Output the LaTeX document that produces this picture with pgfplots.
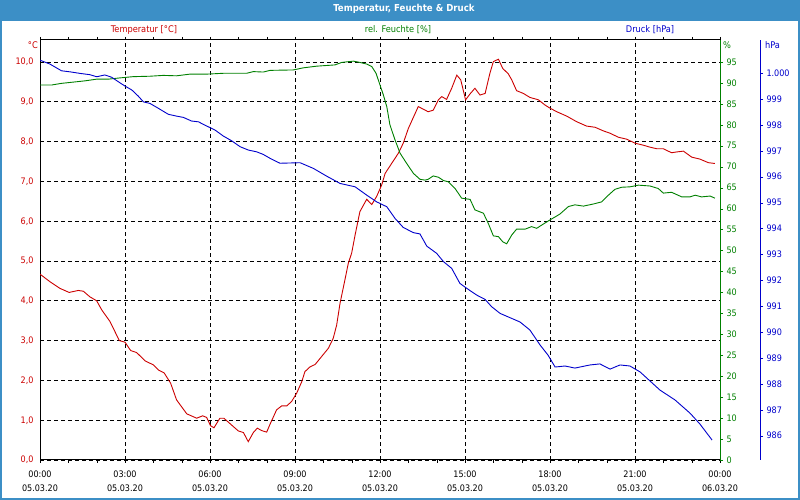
\documentclass[border=0pt]{standalone}
\usepackage{pgfplots}
\pgfplotsset{compat=1.18}
\usepackage{fontspec}
\setmainfont{DejaVu Sans Condensed}
\definecolor{tbar}{RGB}{60,143,198}
\definecolor{tred}{RGB}{204,0,0}
\definecolor{tgreen}{RGB}{0,128,0}
\definecolor{tblue}{RGB}{0,0,204}
\begin{document}
\begin{tikzpicture}[x=1bp,y=1bp,font=\fontsize{9.2}{11}\selectfont]
\fill[tbar] (0,0) rectangle (800,500);
\fill[white] (2,2) rectangle (798,479);
\node[text=white,font=\fontsize{9.6}{11}\selectfont\bfseries] at (404,491) {Temperatur, Feuchte \& Druck};
\node[text=tred] at (144,470) {Temperatur [°C]};
\node[text=tgreen] at (398,470) {rel. Feuchte [\%]};
\node[text=tblue] at (650,470) {Druck [hPa]};
\node[text=tred,anchor=east,inner sep=0pt] at (38,455) {°C};
\node[text=tgreen,anchor=west,inner sep=0pt] at (723,455) {\%};
\node[text=tblue,anchor=west,inner sep=0pt] at (765,455) {hPa};
\pgfplotsset{common/.style={at={(40bp,40bp)}, anchor=south west, width=680bp, height=420bp, scale only axis,
  xmin=0, xmax=24, /pgf/number format/assume math mode=true,
  every tick label/.append style={font=\fontsize{9}{11}\selectfont},
  tick align=outside, major tick length=3bp, minor tick length=3bp}}
% Temperature
\begin{axis}[common, ymin=0, ymax=10.553,
  ytick={0,1,...,10}, yticklabel style={text=tred, /pgf/number format/.cd, fixed, fixed zerofill, precision=1, use comma},
  ytick style={draw=none},
  xtick={0,3,...,24}, minor xtick={1,2,4,5,7,8,10,11,13,14,16,17,19,20,22,23},
  xticklabels={{00:00\\05.03.20},{03:00\\05.03.20},{06:00\\05.03.20},{09:00\\05.03.20},{12:00\\05.03.20},{15:00\\05.03.20},{18:00\\05.03.20},{21:00\\05.03.20},{00:00\\06.03.20}},
  xticklabel style={align=center, text=black, yshift=-4bp, font=\fontsize{9}{14}\selectfont},
  xtick style={black}, minor tick style={black},
  grid=major, major grid style={black, dash pattern=on 4bp off 3bp, line width=0.8bp},
  axis line style={black, line width=1bp}]
\addplot[tred, line width=0.9bp] coordinates {
(0,4.67)(0.35,4.48)(0.71,4.31)(1.03,4.21)(1.35,4.26)(1.53,4.24)(1.76,4.10)(2.0,4.00)(2.18,3.77)(2.47,3.48)(2.8,3.00)(3.0,2.96)(3.2,2.75)(3.41,2.70)(3.71,2.49)(4.0,2.39)(4.18,2.26)(4.38,2.19)(4.61,1.93)(4.82,1.51)(5.18,1.16)(5.53,1.05)(5.74,1.11)(5.88,1.07)(6.02,0.86)(6.14,0.81)(6.35,1.05)(6.49,1.05)(6.76,0.88)(7.0,0.73)(7.18,0.69)(7.35,0.46)(7.53,0.69)(7.67,0.80)(7.82,0.74)(8.0,0.70)(8.12,0.90)(8.35,1.26)(8.53,1.36)(8.71,1.36)(8.88,1.47)(9.06,1.68)(9.24,1.97)(9.35,2.22)(9.53,2.34)(9.71,2.40)(9.94,2.60)(10.18,2.81)(10.35,3.06)(10.47,3.39)(10.59,3.94)(10.76,4.52)(10.88,4.94)(11.0,5.20)(11.12,5.65)(11.29,6.24)(11.53,6.55)(11.71,6.42)(11.88,6.62)(12.06,6.91)(12.18,7.20)(12.41,7.45)(12.65,7.71)(12.82,7.96)(13.0,8.33)(13.35,8.88)(13.7,8.75)(13.88,8.79)(14.06,9.05)(14.18,9.13)(14.35,9.06)(14.53,9.34)(14.71,9.67)(14.85,9.55)(15.02,9.05)(15.18,9.20)(15.35,9.34)(15.53,9.17)(15.71,9.21)(15.88,9.72)(16.0,10.01)(16.18,10.07)(16.33,9.84)(16.53,9.70)(16.65,9.55)(16.82,9.28)(17.06,9.21)(17.29,9.11)(17.59,9.05)(17.82,8.92)(18.0,8.84)(18.24,8.75)(18.59,8.64)(18.94,8.50)(19.29,8.39)(19.59,8.36)(19.88,8.27)(20.12,8.21)(20.41,8.11)(20.71,8.06)(21.0,7.96)(21.29,7.91)(21.53,7.86)(21.77,7.82)(22.0,7.82)(22.29,7.72)(22.47,7.74)(22.71,7.76)(23.0,7.61)(23.29,7.56)(23.59,7.47)(23.82,7.45)};
\end{axis}
% Humidity
\begin{axis}[common, ymin=0, ymax=100.25, axis y line*=right, axis x line=none,
  ytick={0,5,...,95}, yticklabel style={text=tgreen},
  ytick style={tgreen}, y axis line style={tgreen, line width=1bp}]
\addplot[tgreen, line width=0.9bp] coordinates {
(0,89.5)(0.41,89.5)(0.76,89.9)(1.18,90.2)(1.59,90.5)(2.0,90.9)(2.41,90.9)(2.82,91.2)(3.29,91.5)(3.88,91.6)(4.35,91.8)(4.82,91.7)(5.29,92.1)(5.88,92.1)(6.47,92.3)(7.06,92.3)(7.29,92.3)(7.53,92.7)(7.88,92.6)(8.12,93.0)(8.94,93.1)(9.29,93.6)(9.76,94.0)(10.41,94.3)(10.65,94.9)(11.06,95.2)(11.29,94.9)(11.53,94.5)(11.71,93.9)(11.86,92.3)(12.0,89.5)(12.12,87.1)(12.24,84.3)(12.35,80.0)(12.53,76.4)(12.71,73.2)(12.94,70.8)(13.18,68.4)(13.41,67.0)(13.59,66.8)(13.7,67.0)(13.88,67.8)(14.06,67.5)(14.24,66.7)(14.41,66.4)(14.65,64.8)(14.88,62.5)(15.18,62.2)(15.35,59.7)(15.65,58.9)(15.82,56.5)(16.0,53.5)(16.18,53.3)(16.33,52.1)(16.47,51.6)(16.65,53.7)(16.82,55.1)(17.12,55.1)(17.35,55.7)(17.53,55.3)(17.76,56.3)(18.0,57.3)(18.35,58.7)(18.65,60.5)(18.88,60.9)(19.18,60.6)(19.53,61.1)(19.82,61.6)(20.06,63.2)(20.29,64.6)(20.53,65.1)(20.82,65.2)(21.12,65.6)(21.53,65.4)(21.82,64.8)(22.0,63.7)(22.29,63.9)(22.65,62.8)(22.94,62.8)(23.12,63.2)(23.35,62.8)(23.65,63.0)(23.82,62.5)};
\end{axis}
% Pressure
\begin{axis}[common, ymin=985.06, ymax=1001.28, axis y line*=right, axis x line=none,
  ytick={986,987,...,1000}, yticklabels={986,987,988,989,990,991,992,993,994,995,996,997,998,999,1.000},
  yticklabel style={text=tblue, xshift=40bp},
  ytick style={tblue, xshift=40bp}, y axis line style={tblue, line width=1bp, xshift=40bp}]
\addplot[tblue, line width=0.9bp] coordinates {
(0,1000.50)(0.35,1000.35)(0.76,1000.09)(1.06,1000.05)(1.41,999.99)(1.76,999.94)(2.0,999.86)(2.29,999.93)(2.53,999.84)(2.76,999.67)(3.0,999.50)(3.24,999.35)(3.47,999.11)(3.65,998.89)(3.88,998.83)(4.18,998.64)(4.53,998.41)(4.82,998.34)(5.06,998.29)(5.35,998.15)(5.59,998.12)(5.88,997.96)(6.18,997.80)(6.47,997.57)(6.76,997.39)(7.06,997.16)(7.35,997.03)(7.65,996.96)(7.88,996.86)(8.12,996.71)(8.47,996.52)(9.18,996.54)(9.65,996.32)(10.12,996.02)(10.59,995.74)(11.12,995.61)(11.53,995.29)(11.88,995.03)(12.24,994.84)(12.53,994.39)(12.82,994.04)(13.18,993.84)(13.41,993.79)(13.65,993.32)(14.0,993.04)(14.24,992.72)(14.53,992.46)(14.82,991.88)(15.06,991.69)(15.41,991.43)(15.71,991.26)(15.94,990.98)(16.24,990.72)(16.94,990.39)(17.29,990.08)(17.65,989.50)(17.93,989.11)(18.18,988.65)(18.53,988.69)(18.88,988.61)(19.41,988.73)(19.76,988.77)(20.12,988.57)(20.47,988.73)(20.82,988.69)(21.18,988.46)(21.53,988.11)(21.88,987.76)(22.41,987.38)(22.94,986.87)(23.29,986.45)(23.72,985.83)};
\end{axis}
\pgfresetboundingbox
\useasboundingbox (0,0) rectangle (800,500);
\end{tikzpicture}
\end{document}
